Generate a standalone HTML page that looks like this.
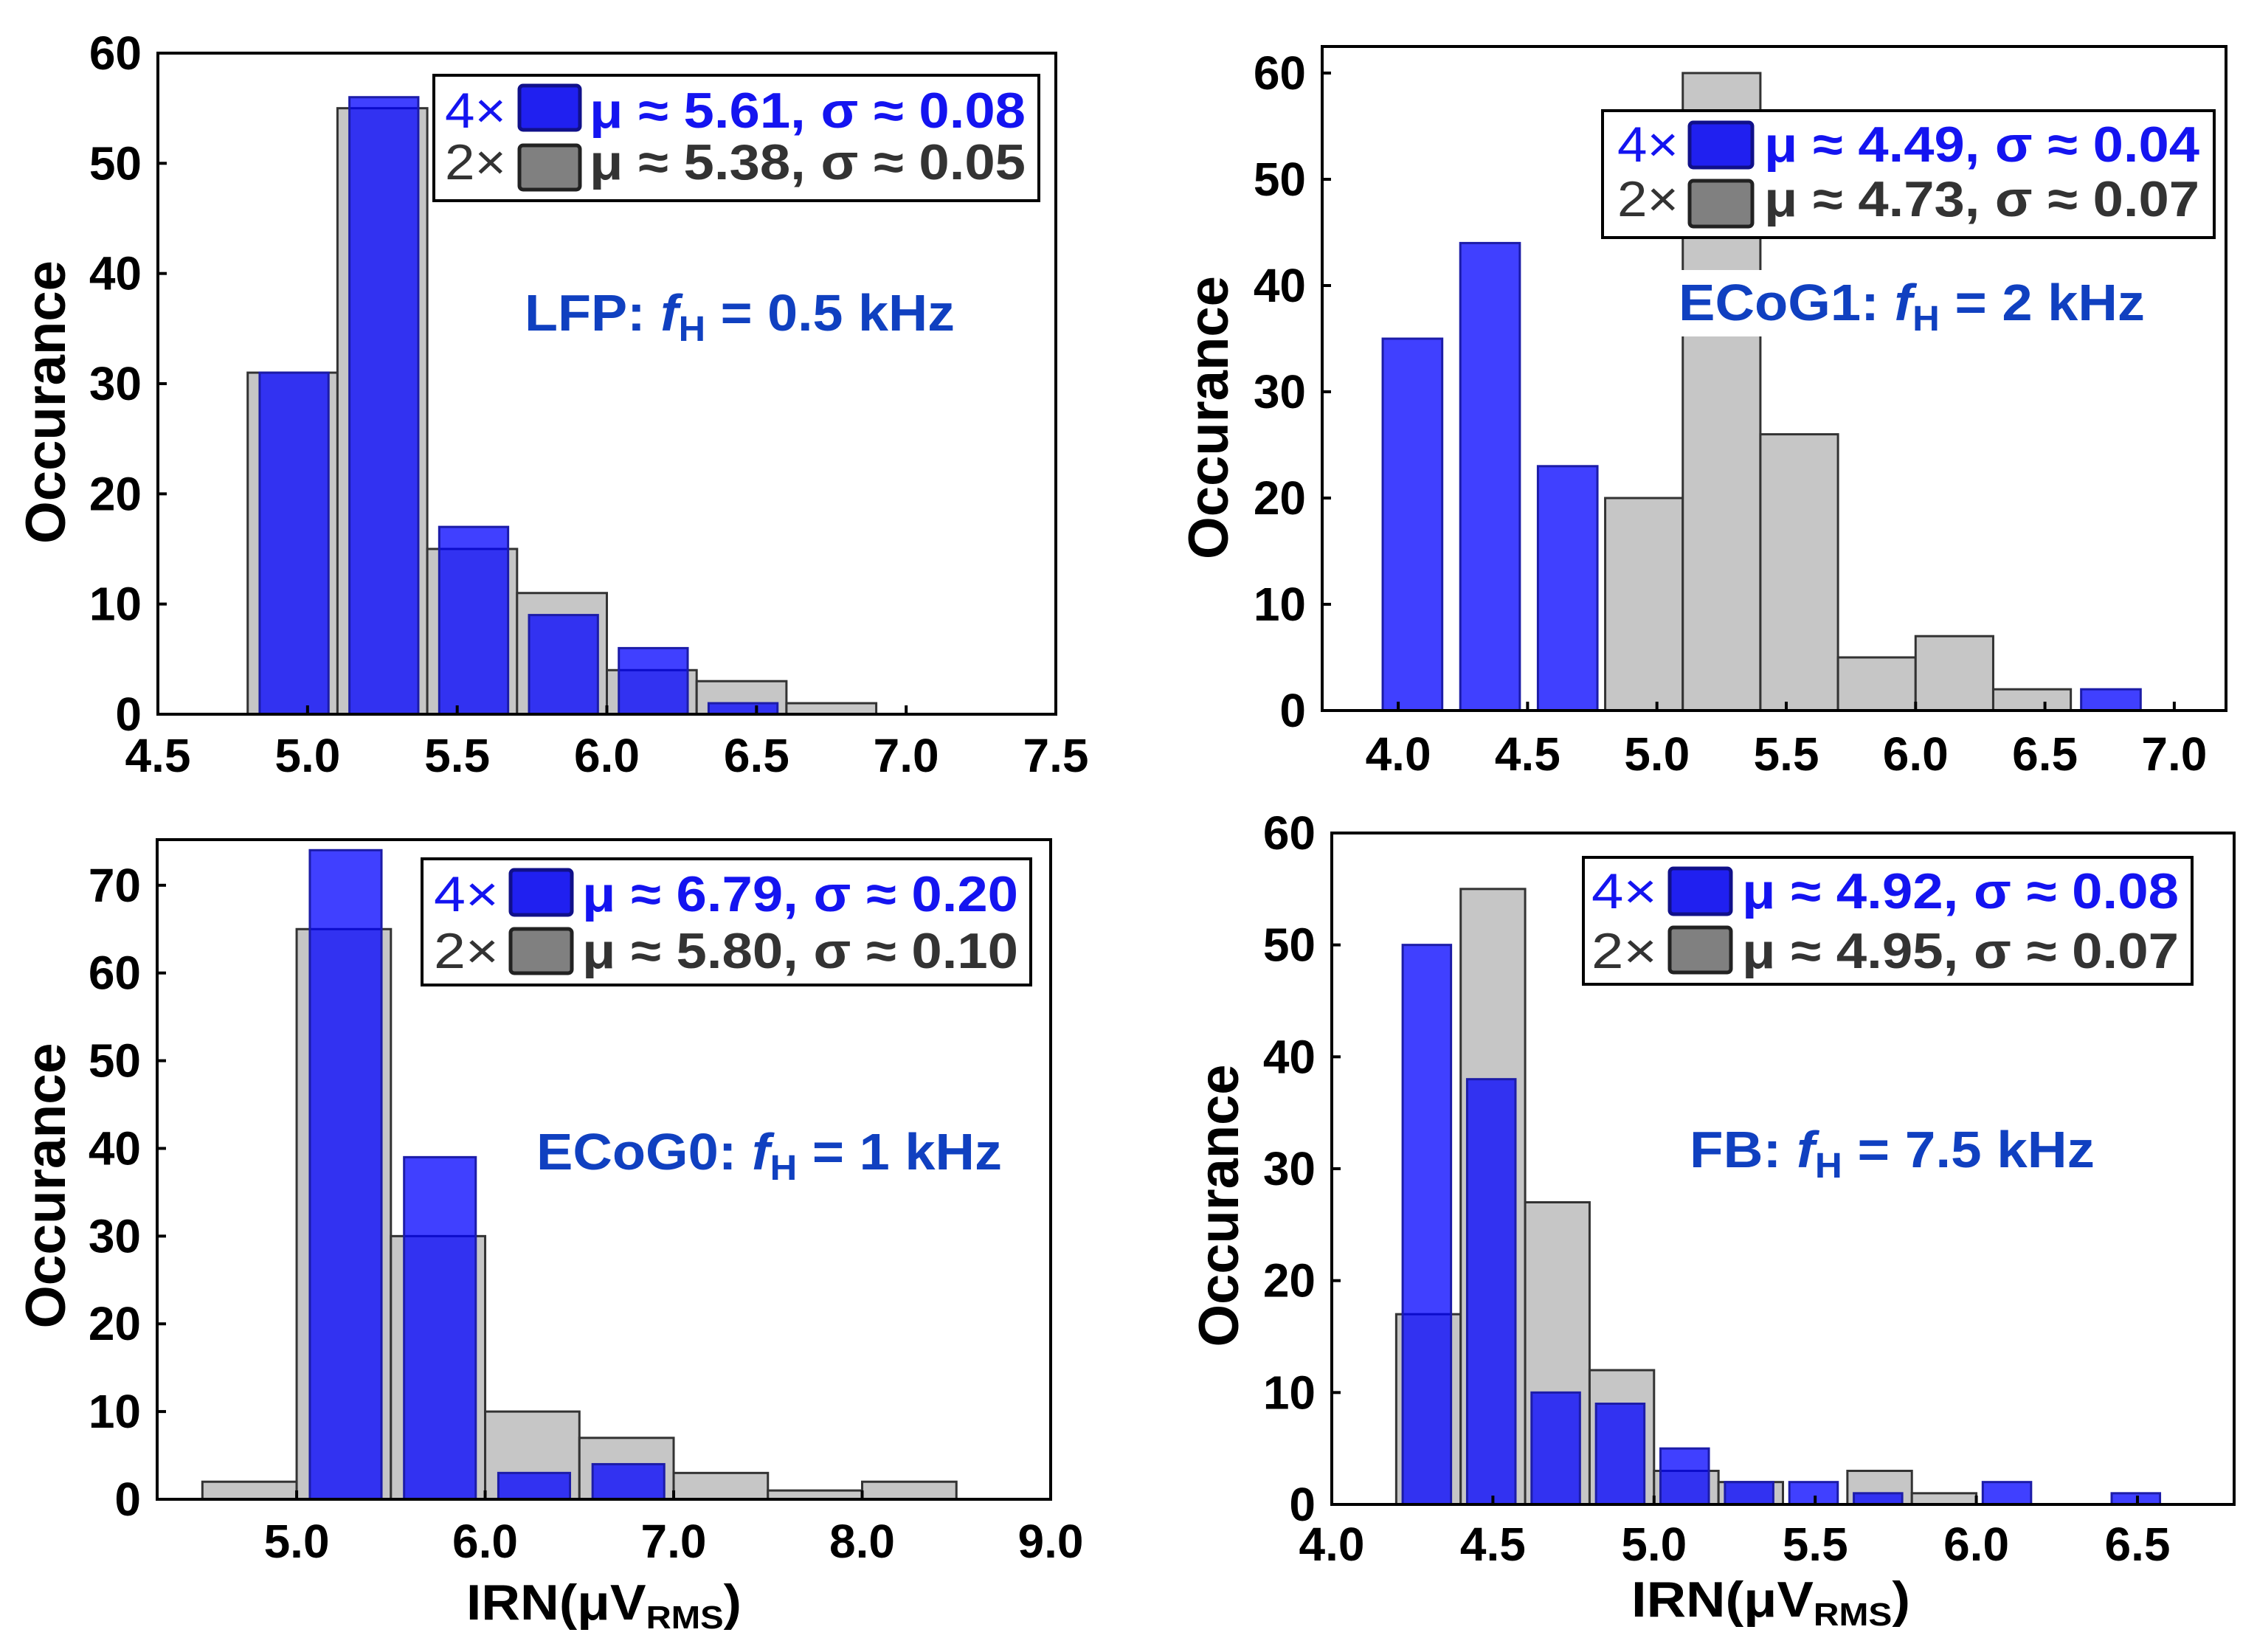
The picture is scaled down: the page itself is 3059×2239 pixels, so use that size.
<!DOCTYPE html>
<html><head><meta charset="utf-8"><style>
html,body{margin:0;padding:0;background:#fff;}
svg{display:block;}
text{font-family:"Liberation Sans",Arial,sans-serif;}
</style></head><body>
<svg id="fig" xmlns="http://www.w3.org/2000/svg" width="3059" height="2239" viewBox="0 0 3059 2239">
<rect x="0" y="0" width="3059" height="2239" fill="#fff"/>
</svg>
<script>
// ---------- data: panel 1 (LFP) ----------
const p1GrayLeft = [4.8,5.1,5.4,5.7,6.0,6.3,6.6];
const p1GrayCounts = [31,55,15,11,4,3,1];
const p1BlueLeft = [4.84,5.14,5.44,5.74,6.04,6.34];
const p1BlueCounts = [31,56,17,9,6,1];
const p1XTicks = ["4.5","5.0","5.5","6.0","6.5","7.0","7.5"];
const p1YTicks = ["0","10","20","30","40","50","60"];
// ---------- data: panel 2 (ECoG1) ----------
const p2GrayLeft = [4.8,5.1,5.4,5.7,6.0,6.3];
const p2GrayCounts = [20,60,26,5,7,2];
const p2BlueLeft = [3.94,4.24,4.54,6.64];
const p2BlueCounts = [35,44,23,2];
const p2XTicks = ["4.0","4.5","5.0","5.5","6.0","6.5","7.0"];
const p2YTicks = ["0","10","20","30","40","50","60"];
// ---------- data: panel 3 (ECoG0) ----------
const p3GrayLeft = [4.5,5.0,5.5,6.0,6.5,7.0,7.5,8.0];
const p3GrayCounts = [2,65,30,10,7,3,1,2];
const p3BlueLeft = [5.07,5.57,6.07,6.57];
const p3BlueCounts = [74,39,3,4];
const p3XTicks = ["5.0","6.0","7.0","8.0","9.0"];
const p3YTicks = ["0","10","20","30","40","50","60","70"];
// ---------- data: panel 4 (FB) ----------
const p4GrayLeft = [4.2,4.4,4.6,4.8,5.0,5.2,5.4,5.6,5.8];
const p4GrayCounts = [17,55,27,12,3,2,0,3,1];
const p4BlueLeft = [4.22,4.42,4.62,4.82,5.02,5.22,5.42,5.62,6.02,6.42];
const p4BlueCounts = [50,38,10,9,5,2,2,1,2,1];
const p4XTicks = ["4.0","4.5","5.0","5.5","6.0","6.5"];
const p4YTicks = ["0","10","20","30","40","50","60"];

const svg = document.getElementById('fig');
const NS = 'http://www.w3.org/2000/svg';
function mk(tag, attrs, parent){
  const e = document.createElementNS(NS, tag);
  for (const k in attrs) e.setAttribute(k, attrs[k]);
  (parent||svg).appendChild(e);
  return e;
}

function drawPanel(id, L, grayLeft, grayW, grayCounts, blueLeft, blueW, blueCounts, xTicks, yTicks){
  const g = mk('g', {});
  
  
  const xs = v => L.left + (v - L.xmin) / (L.xmax - L.xmin) * (L.right - L.left);
  const ys = v => L.bottom - v / L.ymax * (L.bottom - L.top);
  // gray bars
  grayLeft.forEach((x0, i) => {
    if (grayCounts[i] <= 0) return;
    const r = mk('rect', {x: xs(x0), y: ys(grayCounts[i]), width: xs(x0 + grayW) - xs(x0), height: L.bottom - ys(grayCounts[i]), fill: '#c6c6c6', stroke: '#333', 'stroke-width': 3}, g);
    
    
  });
  // blue bars
  blueLeft.forEach((x0, i) => {
    if (blueCounts[i] <= 0) return;
    const r = mk('rect', {x: xs(x0), y: ys(blueCounts[i]), width: xs(x0 + blueW) - xs(x0), height: L.bottom - ys(blueCounts[i]), fill: 'rgba(0,0,255,0.75)', stroke: '#1c1ca8', 'stroke-width': 3}, g);
    
    
  });
  // frame
  const f = mk('rect', {x: L.left, y: L.top, width: L.right - L.left, height: L.bottom - L.top, fill: 'none', stroke: '#000', 'stroke-width': 4}, g);
  
  
  // x ticks
  xTicks.forEach(t => {
    const v = parseFloat(t), x = xs(v);
    mk('line', {x1: x, y1: L.bottom, x2: x, y2: L.bottom - 12, stroke: '#000', 'stroke-width': 4}, g);
    const tx = mk('text', {x: x, y: L.xlabY, 'text-anchor': 'middle', 'font-size': 64, 'font-weight': 'bold', fill: '#000'}, g);
    tx.textContent = t;
    
    
  });
  // y ticks
  yTicks.forEach(t => {
    const v = parseFloat(t), y = ys(v);
    mk('line', {x1: L.left, y1: y, x2: L.left + 12, y2: y, stroke: '#000', 'stroke-width': 4}, g);
    const ty = mk('text', {x: L.left - 22, y: y + 22, 'text-anchor': 'end', 'font-size': 64, 'font-weight': 'bold', fill: '#000'}, g);
    ty.textContent = t;
    
    
  });
  // y title
  const yt = mk('text', {x: 0, y: 0, transform: 'translate(' + L.ytX + ',' + L.ytY + ') rotate(-90)', 'text-anchor': 'middle', 'font-size': 76, 'font-weight': 'bold', fill: '#000', textLength: L.ytLen, lengthAdjust: 'spacingAndGlyphs'}, g);
  yt.textContent = 'Occurance';
  
  
  // annotation
  if (L.annBg) {
    const bg = mk('rect', {x: L.annBg[0], y: L.annBg[1], width: L.annBg[2], height: L.annBg[3], fill: '#fff'}, g);
    
    
  }
  const an = mk('text', {x: L.annX, y: L.annY, 'font-size': 70, 'font-weight': 'bold', fill: '#1040c0', textLength: L.annLen, lengthAdjust: 'spacingAndGlyphs'}, g);
  
  
  const a1 = mk('tspan', {}, an); a1.textContent = L.annName + ': ';
  const a2 = mk('tspan', {'font-style': 'italic'}, an); a2.textContent = 'f';
  const a3 = mk('tspan', {'font-size': 48, dy: 14}, an); a3.textContent = 'H';
  const a4 = mk('tspan', {dy: -14}, an); a4.textContent = ' = ' + L.annVal;
  // legend
  const lg = mk('g', {}, g);
  
  
  mk('rect', {x: L.lg[0], y: L.lg[1], width: L.lg[2] - L.lg[0], height: L.lg[3] - L.lg[1], fill: '#fff', stroke: '#000', 'stroke-width': 4}, lg);
  const rows = [
    {lab: '4×', txt: L.leg1, col: '#1414f0', sw: '#2020f0', sws: '#10108a', sy: L.sw1, by: L.b1, name: 'legend-entry-4x'},
    {lab: '2×', txt: L.leg2, col: '#333', sw: '#808080', sws: '#222', sy: L.sw2, by: L.b2, name: 'legend-entry-2x'}
  ];
  rows.forEach(r => {
    const e = mk('g', {}, lg);
    
    
    const t1 = mk('text', {x: L.labX[0], y: r.by, 'font-size': 68, fill: r.col, textLength: L.labX[1] - L.labX[0], lengthAdjust: 'spacingAndGlyphs'}, e);
    t1.textContent = r.lab;
    mk('rect', {x: L.swX[0], y: r.sy[0], width: L.swX[1] - L.swX[0], height: r.sy[1] - r.sy[0], rx: 5, fill: r.sw, stroke: r.sws, 'stroke-width': 5}, e);
    const t2 = mk('text', {x: L.txX[0], y: r.by, 'font-size': 68, 'font-weight': 'bold', fill: r.col, textLength: L.txX[1] - L.txX[0], lengthAdjust: 'spacingAndGlyphs'}, e);
    t2.textContent = r.txt;
  });
  // x title
  if (L.xtX) {
    const xt = mk('text', {x: L.xtX, y: L.xtY, 'font-size': 68, 'font-weight': 'bold', fill: '#000', textLength: L.xtLen, lengthAdjust: 'spacingAndGlyphs'}, g);
    
    
    const x1 = mk('tspan', {}, xt); x1.textContent = 'IRN(μV';
    const x2 = mk('tspan', {'font-size': 44, dy: 12}, xt); x2.textContent = 'RMS';
    const x3 = mk('tspan', {dy: -12}, xt); x3.textContent = ')';
  }
}

drawPanel('lfp', {left:214,right:1431,top:72,bottom:968,xmin:4.5,xmax:7.5,ymax:60,xlabY:1046,
  ytX:88,ytY:545,ytLen:384, annX:711,annY:448,annLen:583,annName:'LFP',annVal:'0.5 kHz',
  lg:[588,102,1408,272], labX:[603,686], swX:[704,786], txX:[799,1390], sw1:[116,176], sw2:[197,257], b1:173, b2:243,
  leg1:'μ ≈ 5.61, σ ≈ 0.08', leg2:'μ ≈ 5.38, σ ≈ 0.05'},
  p1GrayLeft, 0.3, p1GrayCounts, p1BlueLeft, 0.23, p1BlueCounts, p1XTicks, p1YTicks);

drawPanel('ecog1', {left:1792,right:3017,top:63,bottom:963,xmin:3.706,xmax:7.2,ymax:62.5,xlabY:1044,
  ytX:1664,ytY:566,ytLen:384, annX:2275,annY:434,annLen:632,annName:'ECoG1',annVal:'2 kHz', annBg:[2262,366,660,90],
  lg:[2172,150,3001,322], labX:[2192,2275], swX:[2290,2375], txX:[2391,2981], sw1:[166,227], sw2:[245,307], b1:219, b2:293,
  leg1:'μ ≈ 4.49, σ ≈ 0.04', leg2:'μ ≈ 4.73, σ ≈ 0.07'},
  p2GrayLeft, 0.3, p2GrayCounts, p2BlueLeft, 0.23, p2BlueCounts, p2XTicks, p2YTicks);

drawPanel('ecog0', {left:213,right:1424,top:1138,bottom:2032,xmin:4.26,xmax:9.0,ymax:75.2,xlabY:2111,
  ytX:88,ytY:1607,ytLen:387, annX:727,annY:1585,annLen:631,annName:'ECoG0',annVal:'1 kHz',
  lg:[572,1164,1397,1335], labX:[588,676], swX:[692,775], txX:[789,1380], sw1:[1179,1240], sw2:[1259,1319], b1:1235, b2:1312,
  leg1:'μ ≈ 6.79, σ ≈ 0.20', leg2:'μ ≈ 5.80, σ ≈ 0.10',
  xtX:632,xtY:2195,xtLen:373},
  p3GrayLeft, 0.5, p3GrayCounts, p3BlueLeft, 0.38, p3BlueCounts, p3XTicks, p3YTicks);

drawPanel('fb', {left:1805,right:3028,top:1129,bottom:2039,xmin:4.0,xmax:6.8,ymax:60,xlabY:2115,
  ytX:1678,ytY:1634,ytLen:383, annX:2290,annY:1582,annLen:549,annName:'FB',annVal:'7.5 kHz',
  lg:[2146,1162,2971,1334], labX:[2157,2246], swX:[2263,2346], txX:[2361,2953], sw1:[1177,1239], sw2:[1257,1318], b1:1231, b2:1312,
  leg1:'μ ≈ 4.92, σ ≈ 0.08', leg2:'μ ≈ 4.95, σ ≈ 0.07',
  xtX:2211,xtY:2191,xtLen:378},
  p4GrayLeft, 0.2, p4GrayCounts, p4BlueLeft, 0.15, p4BlueCounts, p4XTicks, p4YTicks);
</script>
</body></html>
